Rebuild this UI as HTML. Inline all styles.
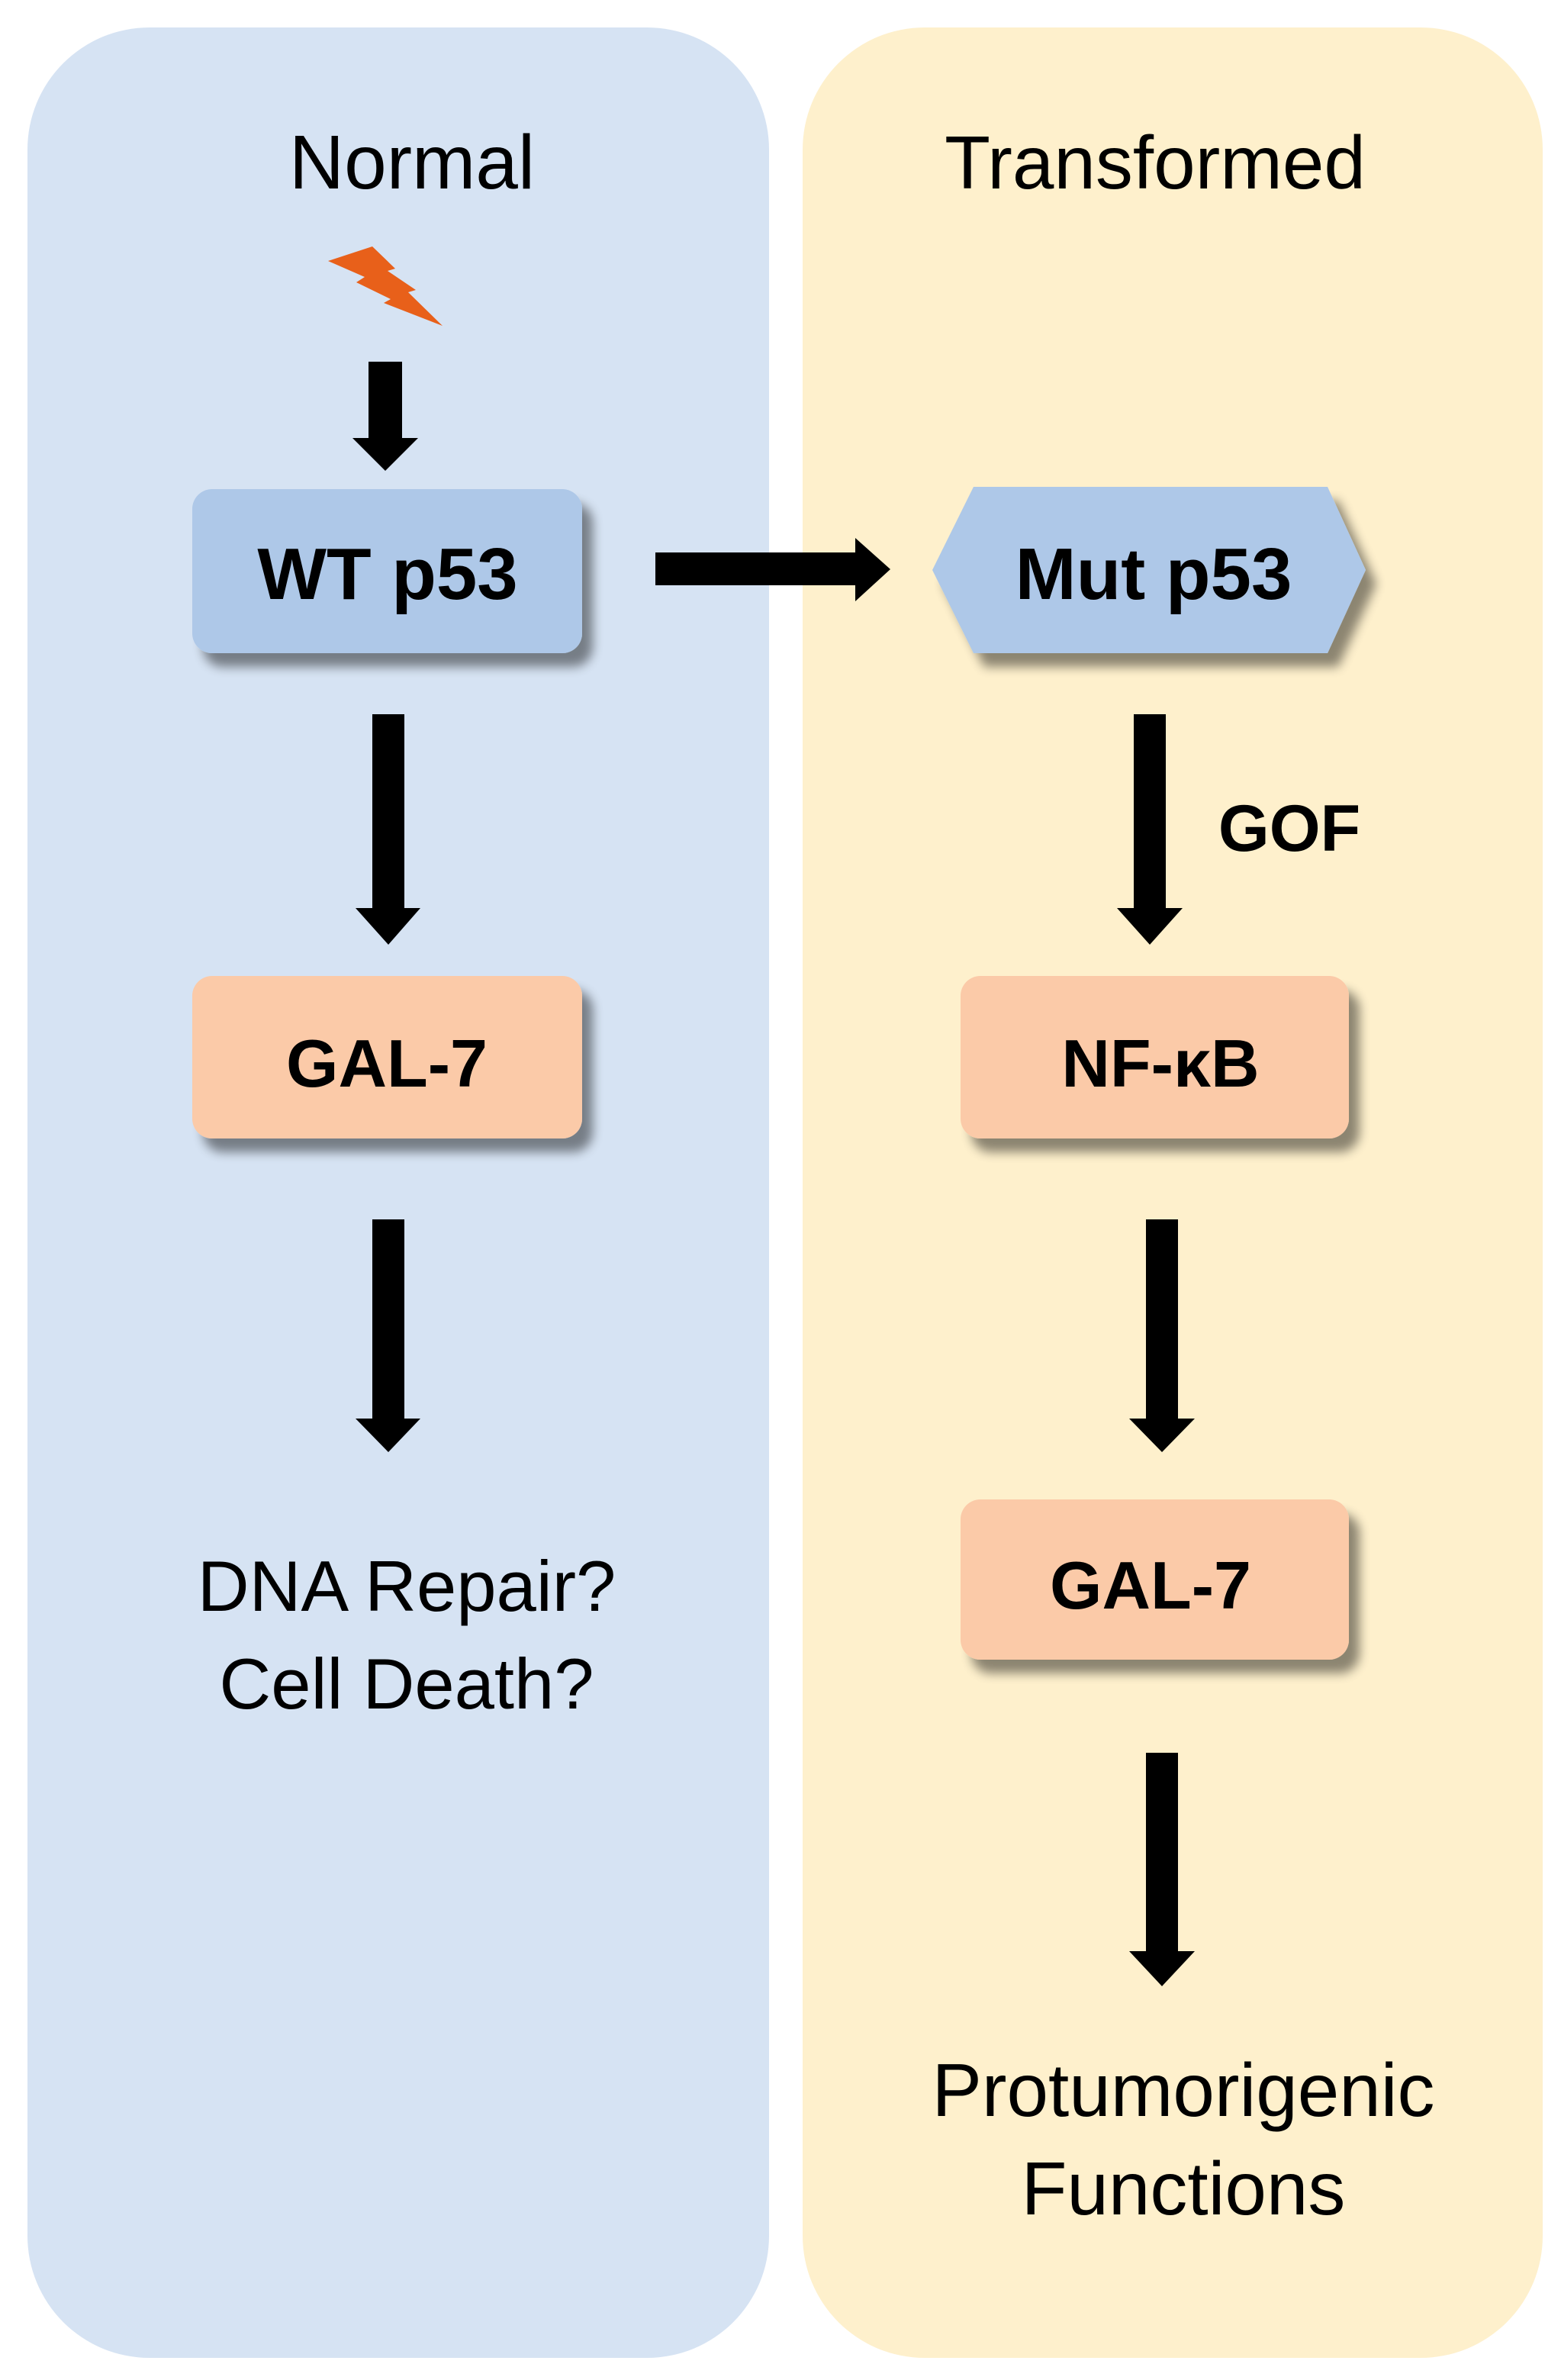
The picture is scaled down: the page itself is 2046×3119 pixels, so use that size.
<!DOCTYPE html>
<html><head><meta charset="utf-8"><style>
html,body{margin:0;padding:0;background:#fff}
svg{display:block}
text{font-family:"Liberation Sans",sans-serif;fill:#000}
</style></head><body>
<svg width="2046" height="3119" viewBox="0 0 2046 3119" xmlns="http://www.w3.org/2000/svg">
<defs>
<filter id="sh" x="-20%" y="-20%" width="150%" height="160%">
<feGaussianBlur in="SourceAlpha" stdDeviation="7"/>
<feOffset dx="14" dy="18" result="b"/>
<feComponentTransfer><feFuncA type="linear" slope="0.45"/></feComponentTransfer>
<feMerge><feMergeNode/><feMergeNode in="SourceGraphic"/></feMerge>
</filter>
</defs>
<rect x="36" y="36" width="972" height="3054" rx="160" ry="160" fill="#d6e3f3"/>
<rect x="1052" y="36" width="970" height="3054" rx="160" ry="160" fill="#fef0cc"/>
<text x="540" y="247" font-size="100" text-anchor="middle">Normal</text>
<text x="1514" y="247" font-size="98" text-anchor="middle">Transformed</text>
<polygon points="430,342 488,323 518,352 508,355 545,380 535,383 580,427 503,397 512,392 467,370 478,363" fill="#e8601a"/>
<g fill="#000">
<rect x="483" y="474" width="44" height="102"/><polygon points="462,574 548,574 505,617"/>
<rect x="488" y="936" width="42" height="256"/><polygon points="466,1190 551,1190 509,1238"/>
<rect x="488" y="1598" width="42" height="263"/><polygon points="466,1859 551,1859 509,1903"/>
<rect x="859" y="724" width="264" height="43"/><polygon points="1121,705 1167,746 1121,788"/>
<rect x="1486" y="936" width="42" height="256"/><polygon points="1464,1190 1550,1190 1507,1238"/>
<rect x="1502" y="1598" width="42" height="263"/><polygon points="1480,1859 1566,1859 1523,1903"/>
<rect x="1502" y="2297" width="42" height="262"/><polygon points="1480,2557 1566,2557 1523,2603"/>
</g>
<rect x="252" y="641" width="511" height="215" rx="26" fill="#aec8e8" filter="url(#sh)"/>
<polygon points="1222,747 1276,638 1740,638 1790,747 1740,856 1276,856" fill="#aec8e8" filter="url(#sh)"/>
<rect x="252" y="1279" width="511" height="213" rx="26" fill="#fbcaa8" filter="url(#sh)"/>
<rect x="1259" y="1279" width="509" height="213" rx="26" fill="#fbcaa8" filter="url(#sh)"/>
<rect x="1259" y="1965" width="509" height="210" rx="26" fill="#fbcaa8" filter="url(#sh)"/>
<g font-weight="bold" text-anchor="middle">
<text x="508" y="785" font-size="96">WT p53</text>
<text x="1512" y="785" font-size="96">Mut p53</text>
<text x="507" y="1424" font-size="88">GAL-7</text>
<text x="1521" y="1424" font-size="88">NF-κB</text>
<text x="1508" y="2108" font-size="88">GAL-7</text>
<text x="1690" y="1115" font-size="86">GOF</text>
</g>
<g font-size="94" text-anchor="middle">
<text x="533" y="2111">DNA Repair?</text>
<text x="533" y="2239">Cell Death?</text>
<text x="1551" y="2773" font-size="98">Protumorigenic</text>
<text x="1551" y="2902" font-size="98">Functions</text>
</g>
</svg>
</body></html>
